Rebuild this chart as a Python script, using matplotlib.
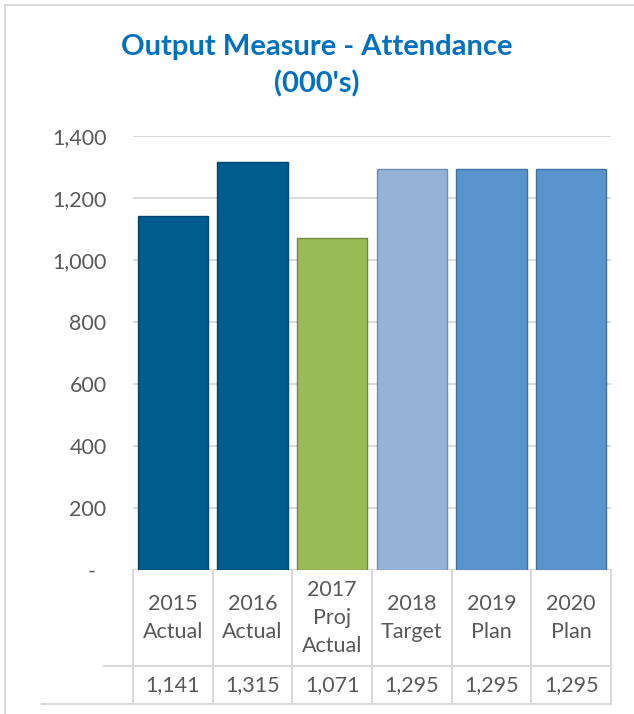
import matplotlib
matplotlib.use("Agg")
from matplotlib import pyplot as plt
from matplotlib.lines import Line2D
from matplotlib.patches import Rectangle
from matplotlib.transforms import ScaledTranslation

# data
categories = ["2015\nActual", "2016\nActual", "2017\nProj\nActual",
              "2018\nTarget", "2019\nPlan", "2020\nPlan"]
values = [1141, 1315, 1071, 1295, 1295, 1295]
fills = ["#005B8F", "#005B8F", "#9BBB59", "#95B3D7", "#5A94CC", "#5A94CC"]
edges = ["#00456D", "#00456D", "#71893D", "#6F8DB3", "#3E70A3", "#3E70A3"]
yticks = [0, 200, 400, 600, 800, 1000, 1200, 1400]

plt.rcParams['font.family'] = ['Lato', 'DejaVu Sans']
txt = "#595959"
grid = "#D9D9D9"

W, H = 634, 714
fig = plt.figure(figsize=(W / 100, H / 100), dpi=100)

# chart border
fig.add_artist(Rectangle((5 / W, -0.05), 1.2, 1 - 5 / H + 0.05, transform=fig.transFigure,
                         fill=False, edgecolor="#D9D9D9", linewidth=1.5))

ax = fig.add_axes([133 / W, 144 / H, 478 / W, 434 / H])
x = list(range(len(values)))
ax.bar(x, values, width=0.88, color=fills, edgecolor=edges, linewidth=1, zorder=3)
ax.set_xlim(-0.5, len(values) - 0.5)
ax.set_ylim(0, 1400)
ax.set_yticks(yticks)
ax.set_yticklabels(["-" if v == 0 else f"{v:,}" for v in yticks])
ax.tick_params(axis="y", length=0, pad=19, labelsize=15.5, labelcolor=txt)
ax.set_xticks([])
ax.grid(axis="y", color=grid, linewidth=1.3, zorder=0)
for s in ax.spines.values():
    s.set_visible(False)

# move the zero label left, like the accounting format
zero = ax.get_yticklabels()[0]
zero.set_transform(zero.get_transform() + ScaledTranslation(-0.11, 0, fig.dpi_scale_trans))

# data table below the axis
tr = ax.get_xaxis_transform()
row1 = -96 / 434
row2 = -134 / 434
for b in [i - 0.5 for i in range(len(values) + 1)]:
    ax.add_line(Line2D([b, b], [0, row2], transform=tr, color=grid, linewidth=1.5, clip_on=False))
fig.add_artist(Line2D([104 / W, 611 / W], [(H - 666) / H] * 2, transform=fig.transFigure,
                      color=grid, linewidth=1.5))
fig.add_artist(Line2D([42 / W, 611 / W], [(H - 704) / H] * 2, transform=fig.transFigure,
                      color=grid, linewidth=1.5))
for i, (c, v) in enumerate(zip(categories, values)):
    ax.text(i, row1 / 2, c, transform=tr, ha="center", va="center", fontsize=15.5,
            color=txt, linespacing=1.5, clip_on=False)
    ax.text(i, (row1 + row2) / 2, f"{v:,}", transform=tr, ha="center", va="center",
            fontsize=15.5, color=txt, clip_on=False)

fig.text(0.5, 1 - 66 / H, "Output Measure - Attendance\n(000's)", ha="center", va="center",
         fontsize=21, fontweight="bold", color="#0070C0", linespacing=1.45)

fig.savefig("out.png", dpi=100)
